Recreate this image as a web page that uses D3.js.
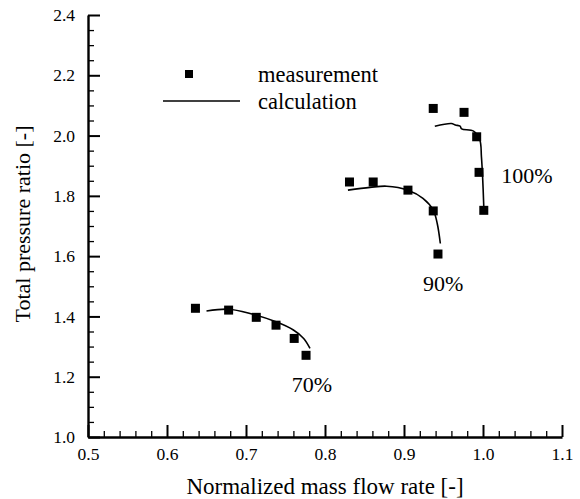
<!DOCTYPE html>
<html><head><meta charset="utf-8">
<script src="https://cdn.jsdelivr.net/npm/d3@7"></script>
<style>body{margin:0;background:#fff}svg{display:block}svg text{font-family:"Liberation Serif","Times New Roman",serif !important;fill:#000}</style>
</head><body>
<svg id="c" width="580" height="499" font-family="Liberation Serif"></svg>
<script>
// Data
const speeds = ["70%", "90%", "100%"];
const meas70 = [[0.636,1.427],[0.678,1.421],[0.713,1.397],[0.738,1.371],[0.761,1.327],[0.776,1.271]];
const meas90 = [[0.831,1.846],[0.861,1.846],[0.905,1.819],[0.937,1.750],[0.943,1.607]];
const meas100 = [[0.937,2.090],[0.976,2.077],[0.992,1.996],[0.995,1.878],[1.001,1.752]];
const calc70 = [[0.650,1.418],[0.678,1.424],[0.705,1.410],[0.738,1.382],[0.760,1.355],[0.773,1.327],[0.781,1.294]];
const calc90 = [[0.829,1.819],[0.857,1.828],[0.878,1.832],[0.905,1.819],[0.924,1.792],[0.937,1.753],[0.942,1.709],[0.946,1.642]];
const calc100 = [[0.939,2.031],[0.960,2.040],[0.965,2.035],[0.971,2.031],[0.973,2.022],[0.988,2.015],[0.996,1.985],[0.998,1.930],[0.9995,1.863],[1.001,1.764]];
const labelPos = [[0.758,1.149],[0.924,1.484],[1.023,1.842]];
const xTicks = [0.5,0.6,0.7,0.8,0.9,1.0,1.1];
const yTicks = [1.0,1.2,1.4,1.6,1.8,2.0,2.2,2.4];
const legendLabels = ["measurement","calculation"];

const svg = d3.select("#c");
const x = d3.scaleLinear().domain([0.5,1.1]).range([88,562]);
const y = d3.scaleLinear().domain([1.0,2.4]).range([437,15]);

// minor ticks
const xMinor = d3.range(0.5,1.1001,0.02).filter(v=>!xTicks.some(t=>Math.abs(t-v)<1e-6));
const yMinor = d3.range(1.0,2.4001,0.05).filter(v=>!yTicks.some(t=>Math.abs(t-v)<1e-6));

const gx = svg.append("g").attr("transform","translate(0,437)");
gx.call(d3.axisBottom(x).tickValues(xMinor).tickSizeInner(-6).tickSizeOuter(0).tickFormat(""));
gx.call(g=>g.selectAll(".domain").remove());
gx.selectAll(".tick line").attr("stroke","#000").attr("stroke-width",1.3);
const gx2 = svg.append("g").attr("transform","translate(0,437)");
gx2.call(d3.axisBottom(x).tickValues(xTicks).tickSizeInner(-12).tickSizeOuter(0).tickFormat(d3.format(".1f")));
gx2.selectAll(".tick line").attr("stroke","#000").attr("stroke-width",2);
gx2.select(".domain").attr("stroke-width",2.4);
gx2.selectAll(".tick text").attr("font-size",17.5).attr("dy","1em").attr("y",5);

const gy = svg.append("g").attr("transform","translate(88,0)");
gy.call(d3.axisLeft(y).tickValues(yMinor).tickSizeInner(-6).tickSizeOuter(0).tickFormat(""));
gy.call(g=>g.selectAll(".domain").remove());
gy.selectAll(".tick line").attr("stroke","#000").attr("stroke-width",1.3);
const gy2 = svg.append("g").attr("transform","translate(88,0)");
gy2.call(d3.axisLeft(y).tickValues(yTicks).tickSizeInner(-12).tickSizeOuter(0).tickPadding(13).tickFormat(d3.format(".1f")));
gy2.selectAll(".tick line").attr("stroke","#000").attr("stroke-width",2);
gy2.select(".domain").attr("stroke-width",2.4);
gy2.selectAll(".tick text").attr("font-size",17.5);
svg.selectAll("g").attr("font-family",null);

// axis titles
svg.append("text").attr("x",325).attr("y",494).attr("text-anchor","middle").attr("font-size",23).text("Normalized mass flow rate [-]");
svg.append("text").attr("transform","translate(30,224) rotate(-90)").attr("text-anchor","middle").attr("font-size",22).text("Total pressure ratio [-]");

// curves
const line = d3.line().x(d=>x(d[0])).y(d=>y(d[1])).curve(d3.curveCatmullRom);
[calc70,calc90,calc100].forEach(c=>{
  svg.append("path").attr("d",line(c)).attr("fill","none").attr("stroke","#000").attr("stroke-width",1.6);
});

// measurements
const sq = 9;
[meas70,meas90,meas100].forEach(m=>{
  svg.append("g").selectAll("rect").data(m).join("rect")
    .attr("x",d=>x(d[0])-sq/2).attr("y",d=>y(d[1])-sq/2).attr("width",sq).attr("height",sq).attr("fill","#000");
});

// speed labels
svg.append("g").selectAll("text").data(speeds).join("text")
  .attr("x",(d,i)=>x(labelPos[i][0])).attr("y",(d,i)=>y(labelPos[i][1]))
  .attr("font-size",22).text(d=>d);

// legend
svg.append("rect").attr("x",185).attr("y",70).attr("width",8).attr("height",8).attr("fill","#000");
svg.append("line").attr("x1",163).attr("x2",240).attr("y1",101).attr("y2",101).attr("stroke","#000").attr("stroke-width",1.6);
svg.append("text").attr("x",258).attr("y",82).attr("font-size",22.5).text(legendLabels[0]);
svg.append("text").attr("x",258).attr("y",109).attr("font-size",22.5).text(legendLabels[1]);
</script>
</body></html>
